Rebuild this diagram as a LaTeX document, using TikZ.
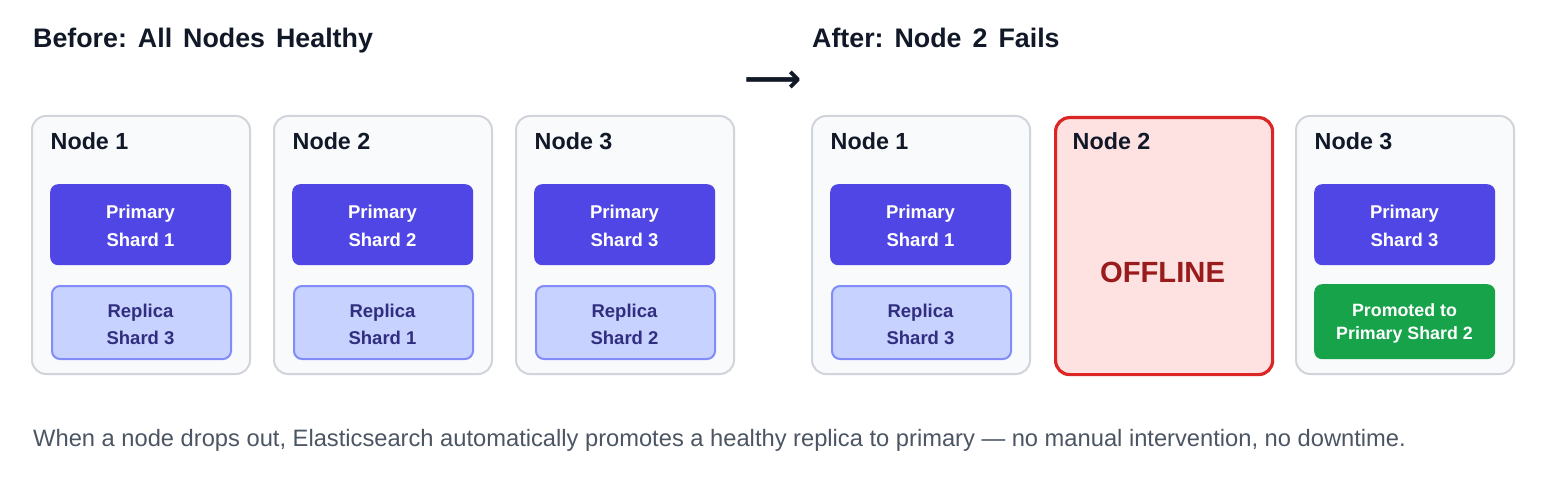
\documentclass[tikz,border=0pt]{standalone}
\usepackage{fontspec}
\setmainfont{Liberation Sans}
\newfontfamily\arrowfont{DejaVu Sans}
\frenchspacing
\newcommand\widespaces{\spaceskip=11pt plus 0pt minus 0pt\relax}
\definecolor{titlec}{HTML}{111827}
\definecolor{nodeborder}{HTML}{D1D5DB}
\definecolor{nodefill}{HTML}{F8FAFC}
\definecolor{primc}{HTML}{4F46E5}
\definecolor{repfill}{HTML}{C7D2FE}
\definecolor{repborder}{HTML}{818CF8}
\definecolor{reptext}{HTML}{312E81}
\definecolor{offborder}{HTML}{DC2626}
\definecolor{offfill}{HTML}{FEE2E2}
\definecolor{offtext}{HTML}{991B1B}
\definecolor{greenc}{HTML}{16A34A}
\definecolor{captionc}{HTML}{4B5563}
\tikzset{
  nodebox/.style={draw=nodeborder, fill=nodefill, line width=2pt, rounded corners=14pt, minimum width=218pt, minimum height=258pt, inner sep=0pt, anchor=north west},
  offbox/.style={draw=offborder, fill=offfill, line width=3.2pt, rounded corners=14pt, minimum width=217pt, minimum height=257pt, inner sep=0pt, anchor=north west},
  primbox/.style={fill=primc, rounded corners=8pt, minimum width=181pt, minimum height=81pt, inner sep=0pt, anchor=north west},
  repbox/.style={draw=repborder, fill=repfill, line width=2pt, rounded corners=8pt, minimum width=179pt, minimum height=73pt, inner sep=0pt, anchor=north west},
  greenbox/.style={fill=greenc, rounded corners=8pt, minimum width=181pt, minimum height=75pt, inner sep=0pt, anchor=north west},
  primtext/.style={anchor=base, inner sep=0pt, text=white, font=\fontsize{18.5}{28}\selectfont\bfseries},
  reptextst/.style={anchor=base, inner sep=0pt, text=reptext, font=\fontsize{18.5}{27}\selectfont\bfseries},
  greentext/.style={anchor=base, inner sep=0pt, text=white, font=\fontsize{17.8}{23}\selectfont\bfseries},
  nodelabel/.style={anchor=base west, inner sep=0pt, text=titlec, font=\fontsize{23.3}{26}\selectfont\bfseries},
  titletext/.style={anchor=base west, inner sep=0pt, text=titlec, font=\fontsize{26.8}{30}\selectfont\bfseries},
}
\begin{document}
\begin{tikzpicture}[x=1pt,y=-1pt]
\useasboundingbox (0,0) rectangle (1545,481);
\fill[white] (0,0) rectangle (1545,481);
% titles
\node[titletext] (t1) at (33,48) {\widespaces Before: All Nodes Healthy};
\node[titletext] (t2) at (812,48) {\widespaces After: Node 2 Fails};
\node[anchor=center, inner sep=0pt, text=titlec, font=\arrowfont\fontsize{40}{40}\selectfont\bfseries] (arr) at (773,82) {⟶};
% before
\node[nodebox] (b1) at (31,115) {};
\node[nodebox] (b2) at (273,115) {};
\node[nodebox] (b3) at (515,115) {};
\node[nodelabel] (b1l) at (50.5,150) {Node 1};
\node[nodelabel] (b2l) at (292.5,150) {Node 2};
\node[nodelabel] (b3l) at (534.5,150) {Node 3};
\node[primbox] (b1p) at (50,184) {};
\node[primbox] (b2p) at (292,184) {};
\node[primbox] (b3p) at (534,184) {};
\node[primtext] (b1pa) at (140.5,219) {Primary};
\node[primtext] (b1pb) at (140.5,247) {Shard 1};
\node[primtext] (b2pa) at (382.5,219) {Primary};
\node[primtext] (b2pb) at (382.5,247) {Shard 2};
\node[primtext] (b3pa) at (624.5,219) {Primary};
\node[primtext] (b3pb) at (624.5,247) {Shard 3};
\node[repbox] (b1r) at (51,285) {};
\node[repbox] (b2r) at (293,285) {};
\node[repbox] (b3r) at (535,285) {};
\node[reptextst] (b1ra) at (140.5,317) {Replica};
\node[reptextst] (b1rb) at (140.5,344) {Shard 3};
\node[reptextst] (b2ra) at (382.5,317) {Replica};
\node[reptextst] (b2rb) at (382.5,344) {Shard 1};
\node[reptextst] (b3ra) at (624.5,317) {Replica};
\node[reptextst] (b3rb) at (624.5,344) {Shard 2};
% after
\node[nodebox] (a1) at (811,115) {};
\node[offbox] (a2) at (1054,116) {};
\node[nodebox] (a3) at (1295,115) {};
\node[nodelabel] (a1l) at (830.5,150) {Node 1};
\node[nodelabel] (a2l) at (1072.5,150) {Node 2};
\node[nodelabel] (a3l) at (1314.5,150) {Node 3};
\node[primbox] (a1p) at (830,184) {};
\node[primtext] (a1pa) at (920.5,219) {Primary};
\node[primtext] (a1pb) at (920.5,247) {Shard 1};
\node[repbox] (a1r) at (831,285) {};
\node[reptextst] (a1ra) at (920.5,317) {Replica};
\node[reptextst] (a1rb) at (920.5,344) {Shard 3};
\node[anchor=base, inner sep=0pt, text=offtext, font=\fontsize{29.2}{32}\selectfont\bfseries] (off) at (1162.5,283) {OFFLINE};
\node[primbox] (a3p) at (1314,184) {};
\node[primtext] (a3pa) at (1404.5,219) {Primary};
\node[primtext] (a3pb) at (1404.5,247) {Shard 3};
\node[greenbox] (a3g) at (1314,284) {};
\node[greentext] (a3ga) at (1404.5,316) {Promoted to};
\node[greentext] (a3gb) at (1404.5,339) {Primary Shard 2};
% caption
\node[anchor=base west, inner sep=0pt, text=captionc, font=\fontsize{23.7}{28}\selectfont] (cap) at (33,446) {When a node drops out, Elasticsearch automatically promotes a healthy replica to primary — no manual intervention, no downtime.};
\end{tikzpicture}
\end{document}
